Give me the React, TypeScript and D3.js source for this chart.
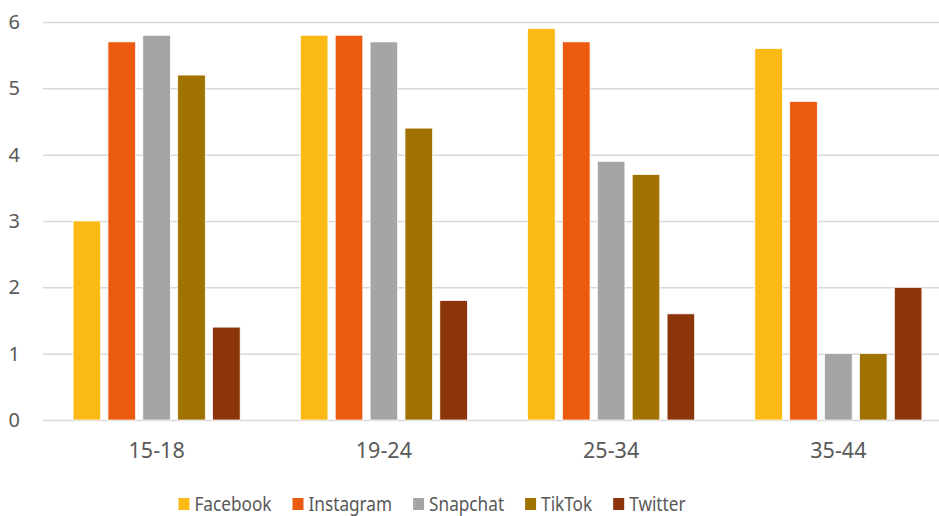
import React from "react";
import * as d3 from "d3";

const ageGroups = ["15-18", "19-24", "25-34", "35-44"];
const platforms = ["Facebook", "Instagram", "Snapchat", "TikTok", "Twitter"];
const colors = ["#FBB916", "#EB5A0E", "#A5A5A5", "#A07300", "#8C350A"];
// one array per platform, in ageGroups order
const facebook = [3.0, 5.8, 5.9, 5.6];
const instagram = [5.7, 5.8, 5.7, 4.8];
const snapchat = [5.8, 5.7, 3.9, 1.0];
const tiktok = [5.2, 4.4, 3.7, 1.0];
const twitter = [1.4, 1.8, 1.6, 2.0];
const yTicks = [0, 1, 2, 3, 4, 5, 6];

const seriesValues = [facebook, instagram, snapchat, tiktok, twitter];

const App = () => {
  const svgRef = React.useRef<SVGSVGElement>(null);
  const width = 939;
  const height = 516;
  const margin = { top: 22, left: 43, bottom: 96 };
  const plotRight = 952; // plot runs slightly past the picture edge
  const font = "'Noto Sans', sans-serif";

  React.useEffect(() => {
    const svgEl = d3.select(svgRef.current);
    svgEl.selectAll("*").remove();

    const x0 = d3.scaleBand()
      .domain(ageGroups)
      .range([margin.left, plotRight])
      .paddingInner(0.265)
      .paddingOuter(0.1325);
    const x1 = d3.scaleBand()
      .domain(platforms)
      .range([0, x0.bandwidth()])
      .paddingInner(0.21);
    const y = d3.scaleLinear()
      .domain([0, 6])
      .range([height - margin.bottom, margin.top]);

    // grid lines + y labels
    const yAxis = d3.axisLeft(y)
      .tickValues(yTicks)
      .tickFormat(d3.format("d"))
      .tickSize(-(plotRight - margin.left))
      .tickPadding(23);
    const yg = svgEl.append("g")
      .attr("transform", `translate(${margin.left},0)`)
      .call(yAxis);
    yg.select(".domain").remove();
    yg.selectAll("line").attr("stroke", "#D9D9D9").attr("stroke-width", 1.5);
    yg.selectAll("text")
      .attr("font-family", font)
      .attr("font-size", 20)
      .attr("fill", "#595959");

    // bars
    const groups = svgEl.append("g")
      .selectAll("g")
      .data(ageGroups)
      .enter()
      .append("g")
      .attr("transform", (d) => `translate(${x0(d)},0)`);
    groups.selectAll("rect")
      .data((d, gi) => platforms.map((p, pi) => ({ p, pi, v: seriesValues[pi][gi] })))
      .enter()
      .append("rect")
      .attr("x", (d) => x1(d.p))
      .attr("width", x1.bandwidth())
      .attr("y", (d) => y(d.v))
      .attr("height", (d) => y(0) - y(d.v))
      .attr("fill", (d) => colors[d.pi])
      .attr("stroke", "#fff")
      .attr("stroke-width", 0.7);

    // x labels
    svgEl.append("g")
      .selectAll("text")
      .data(ageGroups)
      .enter()
      .append("text")
      .attr("x", (d) => x0(d) + x0.bandwidth() / 2)
      .attr("y", 458)
      .attr("text-anchor", "middle")
      .attr("font-family", font)
      .attr("font-size", 21.5)
      .attr("fill", "#595959")
      .text((d) => d);

    // legend, laid out from measured text widths (text squeezed a bit horizontally)
    const squeeze = 0.86;
    const legend = svgEl.append("g");
    let cx = 0;
    platforms.forEach((p, i) => {
      const item = legend.append("g").attr("transform", `translate(${cx},0)`);
      item.append("rect")
        .attr("x", 0)
        .attr("y", -6)
        .attr("width", 11)
        .attr("height", 12)
        .attr("fill", colors[i]);
      const t = item.append("text")
        .attr("transform", `translate(16,0) scale(${squeeze},1)`)
        .attr("dy", "0.35em")
        .attr("font-family", font)
        .attr("font-size", 20)
        .attr("fill", "#595959")
        .text(p);
      const w = (t.node() as SVGTextElement).getComputedTextLength() * squeeze;
      cx += 16 + w + 21;
    });
    const total = cx - 21;
    legend.attr("transform", `translate(${432 - total / 2},504)`);
  }, []);

  return (
    <svg
      ref={svgRef}
      width={width}
      height={height}
      style={{ position: "absolute", left: 0, top: 0, background: "#fff" }}
    />
  );
};

export default App;
